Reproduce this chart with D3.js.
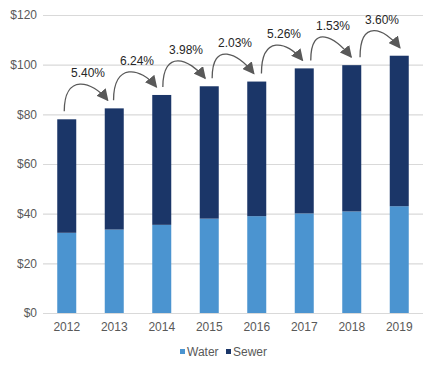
<!DOCTYPE html>
<html>
<head>
<meta charset="utf-8">
<script src="https://cdn.jsdelivr.net/npm/d3@7"></script>
<style>
	body { margin: 0; background: #fff; }
	text { font-family: "Liberation Sans", Arial, sans-serif; }
</style>
</head>
<body>
<div id="chart"></div>
<script>
const years = ["2012", "2013", "2014", "2015", "2016", "2017", "2018", "2019"];
const water = [32.3, 33.6, 35.5, 38.0, 39.0, 40.1, 40.9, 43.0];
const sewer = [45.7, 48.8, 52.3, 53.3, 54.2, 58.4, 58.9, 60.6];
const growth = ["5.40%", "6.24%", "3.98%", "2.03%", "5.26%", "1.53%", "3.60%"];
const yTicks = [0, 20, 40, 60, 80, 100, 120];

const width = 440,
	height = 372,
	margin = { top: 15, right: 17, bottom: 59, left: 43 };

const svg = d3
	.select("#chart")
	.append("svg")
	.attr("width", width)
	.attr("height", height);

const x = d3
	.scaleBand()
	.domain(years)
	.range([margin.left, width - margin.right])
	.paddingInner(0.6)
	.paddingOuter(0.3);

const y = d3
	.scaleLinear()
	.domain([0, 120])
	.range([height - margin.bottom, margin.top]);

const rows = years.map((yr, i) => ({ year: yr, water: water[i], sewer: sewer[i] }));
const stacked = d3.stack().keys(["water", "sewer"])(rows);
const color = { water: "#4b94d0", sewer: "#1b3668" };

// gridlines + y labels
const yAxis = svg
	.append("g")
	.attr("transform", `translate(${margin.left},0)`)
	.call(
		d3
			.axisLeft(y)
			.tickValues(yTicks)
			.tickSize(-(width - margin.left - margin.right))
			.tickPadding(6)
			.tickFormat((d) => "$" + d)
	);
yAxis.select(".domain").remove();
yAxis.selectAll(".tick line").attr("stroke", "#d9d9d9").attr("stroke-width", 1.2);
yAxis
	.selectAll(".tick text")
	.attr("fill", "#595959")
	.attr("font-size", 12);

// bars
svg
	.append("g")
	.selectAll("g")
	.data(stacked)
	.join("g")
	.attr("fill", (s) => color[s.key])
	.selectAll("rect")
	.data((s) => s)
	.join("rect")
	.attr("x", (d) => x(d.data.year))
	.attr("width", x.bandwidth())
	.attr("y", (d) => y(d[1]))
	.attr("height", (d) => y(d[0]) - y(d[1]));

// x labels
const xAxis = svg
	.append("g")
	.attr("transform", `translate(0,${height - margin.bottom})`)
	.call(d3.axisBottom(x).tickSize(0).tickPadding(9));
xAxis.select(".domain").remove();
xAxis.selectAll(".tick text").attr("fill", "#595959").attr("font-size", 12);

// growth arrows
svg
	.append("defs")
	.append("marker")
	.attr("id", "head")
	.attr("viewBox", "0 0 10 10")
	.attr("refX", 9)
	.attr("refY", 5)
	.attr("markerUnits", "userSpaceOnUse")
	.attr("markerWidth", 12)
	.attr("markerHeight", 12)
	.attr("orient", "auto")
	.append("path")
	.attr("d", "M0,0L10,5L0,10Z")
	.attr("fill", "#595959");

const totals = years.map((yr, i) => water[i] + sewer[i]);
const arcs = svg.append("g");
growth.forEach((g, i) => {
	const cx0 = x(years[i]) + x.bandwidth() / 2,
		cx1 = x(years[i + 1]) + x.bandwidth() / 2;
	const sx = cx0 - 2.5 + 1.8 * i,
		ex = cx1 - 6.5 + 1.2 * i,
		sy = y(totals[i]) - 8,
		ey = y(totals[i + 1]) - 8;
	const p = d3.path();
	p.moveTo(sx, sy);
	p.bezierCurveTo(sx, sy - 38, ex - 16, ey - 20, ex, ey);
	arcs
		.append("path")
		.attr("d", p.toString())
		.attr("fill", "none")
		.attr("stroke", "#595959")
		.attr("stroke-width", 1.3)
		.attr("marker-end", "url(#head)");
	arcs
		.append("text")
		.attr("x", (sx + ex) / 2 + 2)
		.attr("y", (y(totals[i]) + y(totals[i + 1])) / 2 - 41)
		.attr("dy", "0.35em")
		.attr("text-anchor", "middle")
		.attr("font-size", 12)
		.attr("fill", "#262626")
		.text(g);
});

// legend
const legend = svg.append("g").attr("transform", `translate(180,${height - 20})`);
[["water", "Water", 0], ["sewer", "Sewer", 46]].forEach(([k, label, off]) => {
	legend
		.append("rect")
		.attr("x", off)
		.attr("y", -3)
		.attr("width", 5)
		.attr("height", 5)
		.attr("fill", color[k]);
	legend
		.append("text")
		.attr("x", off + 7)
		.attr("y", 0)
		.attr("dy", "0.35em")
		.attr("font-size", 12)
		.attr("fill", "#595959")
		.text(label);
});
</script>
</body>
</html>
